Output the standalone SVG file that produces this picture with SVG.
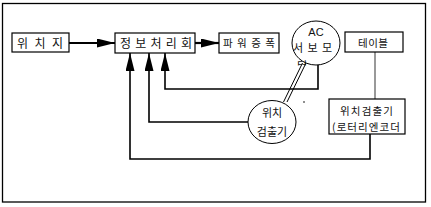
<svg xmlns="http://www.w3.org/2000/svg" width="431" height="207" viewBox="0 0 431 207">
<style>
.box{fill:#fff;stroke:#000;stroke-width:1.2}
.circ{fill:#fff;stroke:#000;stroke-width:1}
.t{font-family:"Noto Sans CJK KR","Noto Sans",sans-serif;fill:#111}
.a{font-family:"Liberation Sans",sans-serif;fill:#111}
.c{fill:none;stroke:#000;stroke-width:1.6}
.m{fill:none;stroke:#000;stroke-width:2.2}
.g{fill:none;stroke:#555;stroke-width:1.2}
.d{fill:none;stroke:#000;stroke-width:1}
</style>
<defs>
<marker id="ah" markerUnits="userSpaceOnUse" markerWidth="18" markerHeight="9" refX="18" refY="4.5" orient="auto">
<path d="M0,0 L18,4.5 L0,9 z" fill="#000"/>
</marker>
<clipPath id="clipT"><rect x="290" y="55" width="30" height="10.5"/></clipPath>
</defs>
<rect x="2.5" y="3.5" width="423" height="198.5" fill="#fff" stroke="#000" stroke-width="1.3"/>
<g id="connectors">
<path class="m" d="M69,43 H115" marker-end="url(#ah)"/>
<path class="m" d="M195,43 H219" marker-end="url(#ah)"/>
<path class="c" d="M370,134 V159 H130 V53" marker-end="url(#ah)"/>
<path class="c" d="M248,122 H149 V53" marker-end="url(#ah)"/>
<path class="c" d="M318,65 V89 H165 V53" marker-end="url(#ah)"/>
<path class="g" d="M375,52 V99"/>
<path class="d" d="M302.5,63 L283.5,102"/>
<path class="d" d="M306,63 L287,102"/>
</g>
<g id="pos-cmd">
<rect class="box" x="12" y="33" width="57" height="19"/>
<text class="t" x="17" y="47.5" font-size="12" textLength="46" lengthAdjust="spacing">위 치 지</text>
</g>
<g id="info-proc">
<rect class="box" x="115" y="33" width="80" height="20"/>
<text class="t" x="120" y="47.5" font-size="12" textLength="72" lengthAdjust="spacing">정 보 처 리 회</text>
</g>
<g id="power-amp">
<rect class="box" x="219" y="33" width="60" height="20"/>
<text class="t" x="223" y="47" font-size="10.5" textLength="52" lengthAdjust="spacing">파 워 증 폭</text>
</g>
<g id="ac-servo">
<ellipse class="circ" cx="316" cy="43" rx="24" ry="22"/>
<text class="a" x="316" y="36" font-size="11" text-anchor="middle">AC</text>
<text class="t" x="293" y="52" font-size="11" textLength="39" lengthAdjust="spacing">서 보 모</text>
<text class="t" x="297" y="70" font-size="11" clip-path="url(#clipT)">터</text>
</g>
<g id="table">
<rect class="box" x="345" y="32" width="58" height="20"/>
<text class="t" x="358" y="46.5" font-size="10.5" textLength="30" lengthAdjust="spacing">테이블</text>
</g>
<g id="pos-detector">
<ellipse class="circ" cx="272" cy="122" rx="24" ry="21.5"/>
<text class="t" x="272" y="117" font-size="11" text-anchor="middle">위치</text>
<text class="t" x="272" y="136" font-size="11" text-anchor="middle">검출기</text>
</g>
<g id="rotary-encoder">
<rect class="box" x="329" y="99" width="76" height="35"/>
<text class="t" x="340" y="114.5" font-size="10.5" textLength="53" lengthAdjust="spacing">위치검출기</text>
<text class="t" x="332" y="131" font-size="10.5" textLength="68" lengthAdjust="spacing">(로터리엔코더</text>
</g>
<circle cx="304" cy="102" r="0.8" fill="#000"/>
</svg>
